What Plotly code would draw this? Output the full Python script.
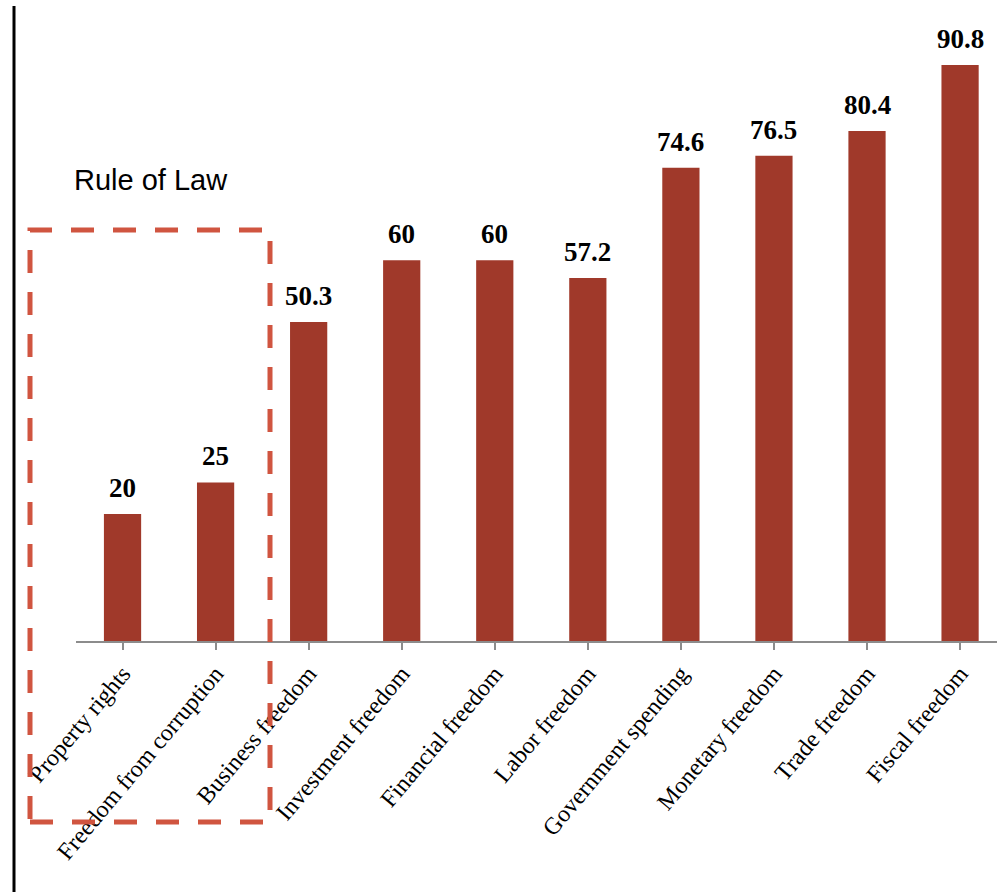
import plotly.graph_objects as go

# Economic freedom component scores
categories = [
    "Property rights", "Freedom from corruption", "Business freedom",
    "Investment freedom", "Financial freedom", "Labor freedom",
    "Government spending", "Monetary freedom", "Trade freedom", "Fiscal freedom",
]
scores = [20, 25, 50.3, 60, 60, 57.2, 74.6, 76.5, 80.4, 90.8]
score_labels = ["20", "25", "50.3", "60", "60", "57.2", "74.6", "76.5", "80.4", "90.8"]

W, H = 997, 892
ML, MB = 76, 251
plot_w = W - ML
plot_h = H - MB

BAR_COLOR = "#A0392A"
BOX_COLOR = "#D05540"

fig = go.Figure()
fig.add_trace(go.Bar(
    x=list(range(len(categories))),
    y=scores,
    width=0.4,
    marker=dict(color=BAR_COLOR, line=dict(width=0)),
    hoverinfo="skip",
))

# value labels above each bar
for i, (v, t) in enumerate(zip(scores, score_labels)):
    fig.add_annotation(
        x=i, y=v, text=f"<b>{t}</b>", showarrow=False,
        xanchor="center", yanchor="bottom", yshift=9,
        font=dict(family="Liberation Serif, Times New Roman, serif", size=27, color="black"),
    )

def px_x(p):
    return (p - ML) / plot_w

def px_y(p):
    return (plot_h - p) / plot_h

# left vertical rule
fig.add_shape(type="line", xref="paper", yref="paper",
              x0=px_x(14), x1=px_x(14), y0=px_y(6), y1=px_y(892),
              line=dict(color="black", width=3))

# dashed box around the rule-of-law components
fig.add_shape(type="rect", xref="paper", yref="paper",
              x0=px_x(30), x1=px_x(270), y0=px_y(822), y1=px_y(230),
              line=dict(color=BOX_COLOR, width=5, dash="23px,19px"),
              fillcolor="rgba(0,0,0,0)")

fig.add_annotation(
    xref="paper", yref="paper", x=px_x(72), y=px_y(180),
    text="Rule of Law", showarrow=False, xanchor="left", yanchor="middle",
    font=dict(family="Liberation Sans, Arial, sans-serif", size=29, color="black"),
)

fig.update_xaxes(
    range=[-0.5, -0.5 + plot_w / 93.06],
    tickmode="array",
    tickvals=list(range(len(categories))),
    ticktext=categories,
    tickangle=-50,
    tickson="boundaries",
    ticks="outside", ticklen=7, tickwidth=2, tickcolor="#8c8c8c",
    showline=True, linecolor="#8c8c8c", linewidth=2,
    showgrid=False, zeroline=False,
    tickfont=dict(family="Liberation Serif, Times New Roman, serif", size=24, color="black"),
)
fig.update_yaxes(
    range=[0, plot_h / 6.344],
    visible=False, showgrid=False, zeroline=False,
)

fig.update_layout(
    width=W, height=H,
    margin=dict(l=ML, r=0, t=0, b=MB, autoexpand=False),
    paper_bgcolor="white", plot_bgcolor="white",
    showlegend=False,
    bargap=0.6,
)

fig.write_html("out.html")
